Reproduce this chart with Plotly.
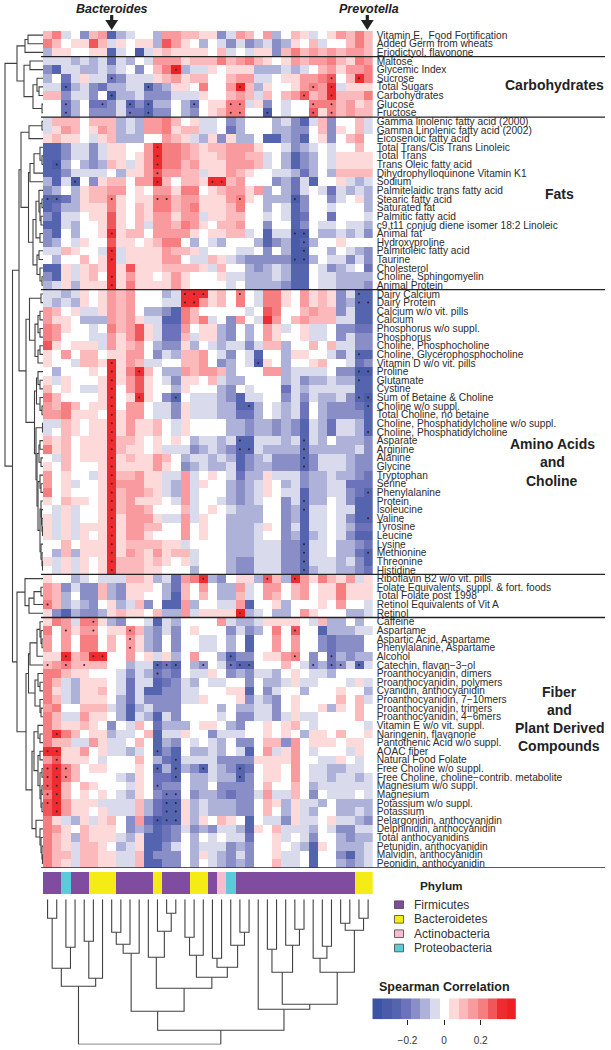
import plotly.graph_objects as go

W, H = 611, 1050
FONT = "Liberation Sans"
CORR_STEP = 0.0523   # one colour band of the Spearman scale

row_labels_misc = ["Vitamin E,  Food Fortification", "Added Germ from wheats", "Eriodictyol, flavonone"]
row_labels_carb = ["Maltose", "Glycemic Index", "Sucrose", "Total Sugars", "Carbohydrates", "Glucose", "Fructose"]
row_labels_fats = ["Gamma linolenic fatty acid (2000)", "Gamma Linolenic fatty acid (2002)", "Eicosenoic fatty acid",
    "Total Trans/Cis Trans Linoleic", "Total Trans", "Trans Oleic fatty acid", "Dihydrophylloquinone Vitamin K1", "Sodium",
    "Palmitelaidic trans fatty acid", "Stearic fatty acid", "Saturated fat", "Palmitic fatty acid",
    "c9,t11 conjug diene isomer 18:2 Linoleic", "Animal fat", "Hydroxyproline", "Palmitoleic fatty acid", "Taurine",
    "Cholesterol", "Choline, Sphingomyelin", "Animal Protein"]
row_labels_amino = ["Dairy Calcium", "Dairy Protein", "Calcium w/o vit. pills", "Calcium", "Phosphorus w/o suppl.", "Phosphorus",
    "Choline, Phosphocholine", "Choline, Glycerophosphocholine", "Vitamin D w/o vit. pills", "Proline", "Glutamate", "Cystine",
    "Sum of Betaine & Choline", "Choline w/o suppl.", "Total Choline, no betaine", "Choline, Phosphatidylcholine w/o suppl.",
    "Choline, Phosphatidylcholine", "Asparate", "Arginine", "Alanine", "Glycine", "Tryptophan", "Serine", "Phenylalanine",
    "Protein", "Isoleucine", "Valine", "Tyrosine", "Leucine", "Lysine", "Methionine", "Threonine", "Histidine"]
row_labels_vit = ["Riboflavin B2 w/o vit. pills", "Folate Equivalents, suppl. & fort. foods", "Total Folate post 1998",
    "Retinol Equivalents of Vit A", "Retinol"]
row_labels_fiber = ["Caffeine", "Aspartame", "Aspartic Acid, Aspartame", "Phenylalanine, Aspartame", "Alcohol", "Catechin, flavan\u22123\u2212ol",
    "Proanthocyanidin, dimers", "Proanthocyanidin, polymers", "Cyanidin, anthocyanidin", "Proanthocyanidin, 7\u221210mers",
    "Proanthocyanidin, trimers", "Proanthocyanidin, 4\u22126mers", "Vitamin E w/o vit. suppl.", "Naringenin, flavanone",
    "Pantothenic Acid w/o suppl.", "AOAC fiber", "Natural Food Folate", "Free Choline w/o suppl.",
    "Free Choline, choline\u2212contrib. metabolite", "Magnesium w/o suppl.", "Magnesium", "Potassium w/o suppl.", "Potassium",
    "Pelargonidin, anthocyanidin", "Delphinidin, anthocyanidin", "Total anthocyanidins", "Petunidin, anthocyanidin",
    "Malvidin, anthocyanidin", "Peonidin, anthocyanidin"]

# Correlation values in colour bands (-7..7), one row per nutrient, one column per genus
bands_misc = [
 [2,4,-1,0,-3,2,3,-5,-2,-1,0,0,-2,3,3,2,2,1,1,-3,-1,3,2,0,3,-2,0,2,1,-1,0,1,3,2,4,2],
 [4,2,0,1,1,5,2,-1,1,0,1,1,-2,5,3,1,0,-2,0,-1,-3,-1,-3,-2,-1,-3,-2,1,0,2,-1,0,0,2,4,2],
 [-2,1,1,0,0,1,1,-5,-1,0,-6,-1,1,2,1,1,1,1,0,2,-1,0,-1,1,1,-3,2,4,2,3,2,3,2,3,3,2],
]
bands_carb = [
 [-1,-1,-1,-2,-1,-2,-1,-4,-1,-2,0,-1,3,3,3,1,2,2,2,4,2,3,4,2,1,0,1,3,2,3,3,4,2,1,4,3],
 [-3,-5,-1,-1,-2,-2,-1,-2,-1,0,-3,0,2,4,7,-2,-1,-1,1,0,1,1,1,-2,-2,-2,-1,-2,-1,0,2,3,1,3,3,4],
 [-2,0,-4,-1,1,-1,-1,-4,-3,-1,-1,-1,1,2,3,1,2,2,0,0,2,3,3,-1,-1,0,1,1,3,3,4,5,0,2,6,4],
 [-1,-1,-5,-2,-1,-3,-4,-2,-2,-1,-1,-5,-3,-2,1,1,0,4,0,0,3,7,2,-2,1,0,0,1,3,4,3,6,-1,1,1,1],
 [2,2,-3,-1,-1,-3,0,-6,-2,-2,-1,-3,-3,-3,-1,-1,-1,1,0,0,2,3,2,-1,2,0,2,3,5,2,3,6,2,2,2,4],
 [0,0,-4,-2,0,-4,-4,-3,-1,-5,-3,-5,-2,-2,0,-2,-4,0,1,1,4,4,-1,1,-3,0,-1,0,0,4,4,4,2,3,1,2],
 [0,0,-4,-2,0,-3,-3,-3,-1,-4,-4,-5,-3,-3,0,-2,-3,0,1,2,4,4,0,0,-6,0,-1,0,0,5,1,4,2,3,2,2],
]
bands_fats = [
 [-1,2,2,2,0,2,2,2,-2,-1,-2,3,3,4,2,0,1,-1,-1,0,-3,-2,0,0,0,-2,-1,-3,-5,-1,2,-3,0,0,2,-1],
 [-1,1,3,2,0,1,3,2,-2,-1,-2,3,3,4,1,2,2,-1,-1,0,-4,-2,0,0,0,-2,-2,-3,-3,0,2,-3,1,0,2,-1],
 [1,2,1,1,0,-1,1,2,-2,-2,-2,0,0,3,2,1,-1,-2,1,-3,1,-2,-2,0,-5,-5,-2,-3,-5,0,1,-3,0,2,3,0],
 [-5,-5,-3,-1,-1,-3,-1,1,1,0,0,3,6,4,4,3,2,1,2,2,3,3,3,1,0,0,-1,-3,-2,-1,0,-1,0,0,2,0],
 [-5,-5,-3,-1,-1,-3,-1,1,1,0,1,3,6,4,4,3,2,1,1,2,3,3,2,2,-1,0,-2,-5,-3,-2,0,-1,1,1,1,1],
 [-5,-6,-2,0,-2,-3,-2,2,1,-1,1,3,6,4,4,2,3,1,1,1,3,3,3,2,-1,0,-2,-5,-3,-2,0,-1,1,1,1,1],
 [-5,-5,-3,-1,-1,-1,-1,0,-2,1,1,3,5,3,3,2,2,-1,1,1,3,2,1,0,0,-1,-1,-2,-4,-2,0,-2,2,2,2,2],
 [-2,-5,-1,-6,0,-3,1,2,2,0,3,3,7,2,0,2,2,1,6,6,2,3,0,0,0,-3,-2,-4,-1,-5,0,0,1,-1,-2,-1],
 [-3,-2,0,-2,1,2,2,3,3,0,1,0,3,3,1,4,4,0,1,2,3,3,1,3,-2,0,-2,-4,-1,0,-1,-4,-1,-2,-1,-2],
 [-5,-5,-4,-2,1,2,2,4,1,0,1,1,4,4,2,3,3,1,1,1,3,4,1,0,-2,-2,-2,-6,-3,0,0,-3,-1,0,1,-2],
 [-5,-4,-2,-2,1,1,1,4,1,0,2,1,4,4,2,3,4,1,1,1,2,4,0,0,-2,0,-1,-5,-3,0,0,-1,0,0,0,-2],
 [-3,-5,-1,-1,0,1,1,5,1,0,2,1,3,3,1,3,3,-1,1,1,2,2,0,0,-1,0,-1,-5,-4,0,0,-4,0,0,0,-1],
 [-5,-5,-1,-2,0,0,1,5,1,0,2,-1,3,3,2,4,3,1,0,2,2,3,0,0,-3,0,0,-5,-3,0,-1,-1,0,-1,-1,-2],
 [-3,-5,0,-2,0,0,1,6,1,2,2,0,3,3,3,3,1,0,1,1,2,2,-1,0,-5,-1,-1,-6,-6,0,-2,-2,-1,-2,-1,-3],
 [-3,-2,0,-1,1,0,0,5,1,1,0,1,2,4,4,0,-2,0,-1,-2,0,0,0,-2,-5,-3,-2,-6,-5,-2,0,0,1,0,0,0],
 [-1,-1,2,1,0,0,-1,6,-1,1,1,1,1,3,2,2,1,-1,0,0,0,-1,-1,0,-3,0,-2,-6,-6,0,0,-2,0,-1,-2,-3],
 [0,-2,0,0,2,0,1,6,-1,1,1,1,1,3,3,0,-1,-1,2,1,-1,-2,-3,-3,-3,-3,-3,-6,-6,-2,0,-1,-1,-3,-1,-3],
 [-5,-5,1,-1,1,2,1,6,1,5,1,1,1,2,2,2,2,1,-1,2,0,0,-2,-3,-2,-1,-2,-5,-5,0,-1,-3,-2,-1,0,-4],
 [-3,-5,1,-1,1,2,0,6,1,3,1,1,0,1,3,1,0,0,0,1,-1,-1,-2,-2,-2,-1,-2,-5,-5,0,-1,-1,-2,-2,-2,-2],
 [-2,-1,1,-2,1,1,1,6,1,4,1,1,1,1,3,1,0,0,0,0,-1,0,-2,-2,-2,-2,-3,-5,-5,0,-1,-1,-2,-2,-2,-3],
]
bands_amino = [
 [-1,-1,-2,-1,1,0,1,3,2,3,0,0,0,-2,-1,6,6,6,1,2,0,4,0,-1,4,4,1,0,3,1,2,1,-3,-1,-5,-5],
 [-1,-2,-1,-2,1,0,1,3,2,3,0,0,0,-1,-1,6,6,3,1,2,0,4,0,-1,4,4,1,0,3,1,2,1,-3,-2,-5,-5],
 [3,2,0,1,-1,-1,1,3,2,3,0,-2,-2,-3,-5,4,2,0,0,0,0,0,-1,0,5,4,0,0,2,3,2,2,-3,-1,-5,-5],
 [3,1,1,0,-2,-2,-2,3,2,3,1,-1,-1,-5,-5,4,2,4,-1,0,-3,3,0,-1,6,3,0,2,3,2,2,2,-1,-1,-5,-5],
 [4,3,1,0,0,-1,0,4,2,3,5,1,-1,-4,-4,3,0,1,1,-2,-3,0,-2,0,3,1,-1,0,1,-1,-1,0,-3,-3,-4,-4],
 [4,3,0,0,0,-1,-1,3,1,3,5,1,-1,-4,-4,2,-1,1,1,-2,-3,0,-2,0,3,1,0,0,1,-1,-1,0,-3,-1,-3,-3],
 [5,1,0,1,1,1,-1,3,1,2,3,0,-2,-3,-3,1,-2,0,-1,-2,-1,-1,-3,-1,2,2,-2,0,0,2,0,2,-1,-1,-3,-3],
 [1,0,3,0,2,2,0,1,1,3,3,0,-3,-1,-2,2,2,3,0,-1,-3,0,-1,-5,0,0,-2,1,1,0,0,-1,-3,-1,-5,-5],
 [1,0,0,-1,2,2,1,6,1,3,2,-1,-1,0,0,2,2,3,0,-3,-2,0,-1,-6,1,0,-2,0,0,1,2,0,0,-1,-4,-3],
 [0,-2,0,0,0,1,0,6,1,4,6,2,0,-2,-2,3,2,3,3,2,-2,0,0,0,3,3,-2,-1,-1,-1,-1,0,-3,-3,-6,-6],
 [1,-1,1,0,0,0,1,6,1,3,5,1,0,-1,-3,1,1,0,2,-1,-2,-2,0,0,0,0,-2,-1,-3,-2,-2,-1,-2,-2,-5,-5],
 [2,0,1,0,-1,-1,1,6,0,3,5,1,0,0,-2,1,0,0,0,-2,-3,0,-1,0,0,0,-4,-1,-2,-1,-1,-1,-1,-1,-5,-5],
 [4,2,0,0,0,0,1,6,0,1,6,1,0,-3,-5,0,-1,-1,-1,-2,-3,-5,-1,-1,0,0,-3,-1,-3,-1,-2,-2,-1,-3,-5,-6],
 [3,2,4,2,0,1,1,6,0,3,3,0,-1,-1,-3,1,-1,-1,-1,-2,-2,-5,-5,-2,0,-1,-2,-1,-4,0,-2,-3,-3,-3,-4,-5],
 [3,3,4,1,1,1,0,6,1,3,3,0,-1,-1,-3,1,-1,-1,-1,-2,-2,-4,-4,-2,0,-1,-2,-1,-4,0,-2,-3,-3,-3,-3,-5],
 [-1,-1,2,1,0,1,1,6,1,3,1,1,2,0,-1,1,0,0,0,0,-2,-2,-3,-2,-2,-3,-2,-3,-5,-1,-2,-4,-1,-1,-2,-5],
 [-1,0,2,1,0,1,1,6,1,3,1,1,2,0,-1,1,0,0,0,0,-2,-2,-3,-2,-2,-3,-2,-3,-5,-1,-2,-4,-1,-1,-2,-5],
 [2,1,2,0,1,1,1,6,2,2,1,0,1,0,1,0,-2,-1,-1,-2,-1,-5,-5,-1,-1,-1,-2,-1,-5,-1,-2,0,-2,-2,-2,-3],
 [4,1,2,0,1,1,1,6,2,1,1,0,1,-1,-1,-1,-3,-2,-1,-2,-3,-5,-5,-1,-2,-2,-2,-2,-5,-2,-2,-2,-2,-2,-1,-3],
 [0,-1,2,0,1,1,1,6,1,2,1,1,3,2,0,-2,-1,-1,-2,-1,-2,-5,-3,-2,-1,-3,-3,-3,-5,-3,-1,-1,-1,-2,-3,-3],
 [1,0,2,0,0,0,1,6,1,1,1,1,3,1,0,-3,-2,-1,-2,-2,-1,-5,-3,-2,-2,-3,-3,-3,-5,-3,-1,-1,-1,-2,-3,-3],
 [3,0,1,0,0,-1,1,6,2,2,3,1,1,-1,-1,3,-1,0,1,0,-1,-4,-2,-2,1,-1,-1,-1,-3,-2,-2,-1,-2,-2,-3,-4],
 [3,0,1,-1,0,0,1,6,3,3,3,1,1,-1,-2,3,-1,1,0,0,-2,-3,-2,-1,1,0,-2,-1,-3,-2,-2,-1,-1,-4,-4,-4],
 [4,0,1,0,0,0,1,6,2,3,3,2,1,-1,-2,3,-1,0,0,0,-2,-3,-2,-1,1,0,-1,-1,-5,-2,-2,-1,-1,-3,-4,-5],
 [1,0,2,1,1,0,1,6,2,3,1,1,1,0,-1,3,-1,0,0,-1,-2,-3,-2,-1,0,0,-3,-1,-5,-2,-2,0,-1,-3,-5,-5],
 [0,-1,1,-1,0,0,1,6,2,3,3,2,0,0,0,2,-1,0,1,0,-1,-2,-2,-2,0,0,-3,-2,-5,-1,-1,0,-1,-1,-5,-5],
 [1,-1,1,-1,0,0,1,6,1,3,3,3,1,-1,-1,3,-1,1,0,0,-2,-2,-2,-2,0,0,-3,-2,-5,-1,-1,0,-1,-3,-5,-5],
 [1,-1,1,-1,1,1,1,6,1,3,3,2,2,0,0,3,0,1,0,0,-2,-2,-2,-1,1,0,-3,-1,-5,-1,-1,0,-1,-2,-4,-4],
 [1,-1,1,-1,1,0,1,6,1,3,3,1,0,0,0,3,0,1,0,0,-2,-2,-2,-1,0,0,-3,-2,-5,-2,-1,0,-1,-3,-5,-5],
 [0,0,2,0,1,1,1,6,1,2,2,2,2,1,1,-1,0,0,0,0,-2,-2,-2,-1,-1,-1,-3,-3,-5,-1,-1,0,-2,-2,-3,-4],
 [0,-2,2,-2,1,1,1,6,1,3,2,1,3,1,2,2,-1,0,0,0,-2,-2,-2,-1,-1,-1,-3,-3,-5,-1,-1,0,-2,-2,-4,-5],
 [1,-1,1,-1,1,0,1,6,2,2,2,1,2,1,0,1,-1,0,0,0,-2,-3,-3,-1,-1,-1,-3,-3,-5,-1,-1,-1,-2,-1,-3,-5],
 [0,-1,1,-1,1,0,1,6,2,2,2,1,1,0,0,0,-2,0,0,0,-2,-3,-3,-1,-1,-1,-3,-3,-5,-2,-1,-1,-2,-2,-3,-4],
]
bands_vit = [
 [1,0,0,-2,-1,0,-1,-1,-1,2,2,1,-2,-1,-4,3,4,6,-2,-3,0,1,1,-2,5,2,-2,6,3,1,4,2,1,3,-1,1],
 [3,2,-3,-1,-3,-3,2,-2,-3,1,1,1,0,-2,-4,2,0,3,0,-2,-2,3,-1,0,3,3,0,2,3,0,1,1,4,1,1,1],
 [3,2,-2,0,-3,-3,2,-2,-3,1,1,0,0,-2,-5,2,0,2,0,-2,-2,2,-1,0,3,2,0,2,3,0,1,1,4,1,1,1],
 [4,2,-2,-1,-2,-3,0,1,-2,-1,2,-3,0,-5,-5,3,-2,0,0,-1,-1,3,-5,0,0,1,-2,0,0,0,1,0,3,0,0,-1],
 [1,-3,-5,-2,-3,-3,-2,1,2,1,1,0,2,-2,-2,3,-1,1,1,1,1,7,-2,-1,0,-2,-2,0,3,1,0,0,0,-2,-2,-1],
]
bands_fiber = [
 [1,4,3,-1,4,4,1,-2,-3,0,0,-1,-5,-1,-2,0,0,0,0,3,-1,-2,-2,-1,1,1,1,1,0,-1,2,-2,-2,0,-2,0],
 [4,0,3,1,3,3,0,1,1,4,2,-2,-3,-1,-3,0,1,0,0,0,-3,-1,-3,-2,0,4,0,5,0,0,-5,-2,-2,-2,-1,-1],
 [3,0,3,0,4,4,0,2,0,3,1,-2,-3,0,-3,0,0,-1,-1,0,-2,0,-5,0,0,3,0,3,0,0,-3,-4,-3,-3,-3,0],
 [3,0,3,0,4,4,0,2,0,3,1,-2,-3,0,-3,0,0,-1,-1,0,-2,0,-5,0,0,3,0,3,0,0,-3,-4,-3,-3,-3,0],
 [1,1,6,2,3,6,6,0,0,3,0,1,-1,1,-2,0,3,0,0,-2,-5,-3,-3,0,1,1,3,4,0,-3,0,-4,-2,-3,-2,-2],
 [2,3,4,2,2,2,2,0,0,-2,-1,-1,-5,-4,-5,0,-2,-3,0,-1,-4,-5,-5,0,0,0,2,0,-1,-3,-2,-4,-3,-1,-5,-1],
 [4,4,2,1,1,0,0,0,-1,-3,-1,-2,-4,-3,-4,0,-1,-1,1,0,-3,-2,-3,-1,-1,-2,0,1,0,-1,-1,-2,0,0,0,0],
 [4,2,-1,-2,1,1,1,0,-1,-4,-1,-1,-5,-4,-3,-1,-2,0,-1,-1,0,0,-3,0,-2,-2,-1,1,-1,-1,0,0,0,-1,1,-1],
 [4,1,-1,-2,1,1,2,0,-1,-4,-1,-5,-5,-3,-3,-1,-1,0,0,0,1,1,-5,0,-3,-1,0,0,-2,0,0,0,1,0,0,-2],
 [4,2,-1,-2,1,1,1,0,-2,-4,-1,-3,-3,-3,-3,-1,-1,1,0,0,0,1,-3,-1,-2,-3,0,1,0,0,0,0,2,0,2,-1],
 [3,4,0,0,2,2,2,-1,-2,-5,-2,-1,-3,-3,-3,0,0,0,0,-2,0,-2,-2,-1,-1,-3,0,1,0,0,1,-2,1,0,2,0],
 [4,2,-1,-1,3,1,1,0,-2,-5,-1,-2,-5,-1,-3,0,0,0,0,-1,0,-3,-3,-1,-1,-3,-1,1,-1,-1,0,0,0,0,2,0],
 [4,2,1,1,2,1,0,-3,0,-1,2,0,-4,-2,-2,-2,0,1,1,0,-2,-3,0,0,1,0,1,2,0,-1,0,0,0,0,0,-1],
 [4,6,4,2,0,1,1,-2,-1,-1,0,2,-5,-1,-1,1,0,0,-3,-1,-1,-1,0,0,1,0,1,0,-2,1,1,0,2,0,0,1],
 [4,2,2,-1,-1,3,1,-1,-1,0,2,0,-5,-2,-3,0,-1,0,-1,-2,0,-3,-3,0,2,2,-3,3,0,1,1,1,0,1,1,0],
 [6,6,1,1,3,0,1,-1,-1,-2,-1,0,-5,-3,-5,0,-2,-2,-1,-2,0,-1,-5,0,3,-1,1,3,0,-1,0,0,0,-1,1,0],
 [3,5,1,1,1,0,-1,0,0,0,2,0,-2,-4,-5,-1,-1,-1,-1,-3,-3,-3,-3,1,1,1,1,3,0,0,-1,-1,1,0,-1,0],
 [5,6,4,2,0,1,1,0,0,0,1,0,-5,-2,-5,-2,-3,-5,-1,-2,-3,-5,-4,0,1,1,0,3,0,-1,-1,-2,-2,-1,-1,0],
 [5,6,4,2,0,0,0,0,-1,-2,1,0,-4,-4,-5,0,-2,-2,-1,-2,-2,-5,-3,0,1,1,0,3,0,-1,-1,-2,-1,-1,-2,-1],
 [5,6,2,0,2,1,0,0,0,-1,1,0,-4,-3,-3,0,-2,-2,0,-3,-3,-3,-3,0,2,0,0,2,0,-2,-1,-1,-1,-1,-1,-1],
 [4,6,2,0,1,0,1,0,-1,-2,1,0,-3,-4,-4,0,-3,-2,-2,-3,-4,-3,-3,-1,3,-1,-1,2,0,-3,0,-1,-1,-1,0,-1],
 [5,6,3,1,1,1,-1,-1,-1,-1,2,-2,-4,-5,-5,1,-2,-1,-2,-2,-2,-3,-3,0,2,1,-2,1,-1,-1,-2,0,-2,-2,-2,-2],
 [5,6,3,1,1,0,1,-1,-1,-1,2,-2,-4,-5,-5,1,-2,-1,-2,-2,-2,-3,-3,0,2,0,-2,1,-1,-2,0,0,-2,-2,-1,-2],
 [4,1,-1,-2,1,-1,1,2,0,-3,3,-4,-6,-5,-5,1,-2,1,0,2,1,0,-5,0,-1,-1,-3,1,-1,-1,0,1,-1,-1,-2,-3],
 [4,3,1,0,2,1,1,1,0,-3,-2,-3,-5,-4,-3,-1,-3,-2,-3,-1,-1,-2,-5,1,0,2,-1,-1,-1,-2,0,-1,-3,-3,-1,-1],
 [4,2,1,-2,2,1,1,1,-1,-2,1,-5,-5,-4,-3,0,-2,0,-1,0,-1,-1,-4,0,0,1,-1,0,-1,-3,0,0,-2,-3,-2,-2],
 [4,2,1,-1,2,2,1,0,-2,-1,1,-5,-5,-3,-1,0,-2,-1,-1,-1,-3,-2,-3,0,0,1,0,-1,-2,-5,1,0,-2,-2,-2,-1],
 [4,2,2,-1,2,2,1,1,-1,-1,2,-5,-3,-3,-3,0,-2,1,-1,-2,-3,-1,-3,0,0,1,-1,-1,0,-5,0,0,-3,-5,-2,-1],
 [4,2,1,-1,2,2,1,1,-1,-1,2,-5,-5,-3,-3,0,-2,0,-1,-2,-3,-2,-3,0,0,2,-1,-1,0,-5,0,0,-2,-3,-2,-1],
]
# Significant correlations: row -> columns carrying a dot
significant = {4:[14],5:[7,31,34],6:[2,11,21,29,31],7:[7,28,31],8:[2,6,9,11,16,20,21,29,31],9:[2,9,11,20,21,24,29,31],
 13:[12],14:[12],15:[1,12],16:[12],17:[3,12,18,19],19:[0,1,7,12,13,21,27],23:[7,27,28],24:[28],25:[7,28],26:[7,27,28],28:[7],29:[7],
 30:[15,16,17,21,34],31:[15,16,34,35],37:[34],38:[7,23],39:[7,10,34,35],40:[7,34],41:[7],42:[7,10,14,34,35],43:[7,22,35],44:[7],45:[7],
 46:[7,35],47:[7,21,28],48:[7,21,22,28],49:[7,28],50:[7,28],51:[7],52:[7],53:[7,35],54:[7,28],55:[7,28],56:[7,35],57:[7],58:[7],
 59:[7,28],60:[7,28,35],61:[7,28],62:[7,28],63:[17,24,27],66:[0],67:[21],68:[5],69:[2,5,9,27],70:[9],71:[9],72:[2,5,6,20,27,31],
 73:[0,2,4,12,13,14,17,20,21,22,29,31,32,34],74:[12],81:[1],83:[0,1,12],84:[1,14],85:[0,1,2,12,14,17,21],86:[0,1,2,14,21],
 87:[0,1,12],88:[0,1,13,14],89:[0,1,13,14],90:[1,13,14],91:[12,13,14]}

# Phylum of each column, 0 Firmicutes, 1 Bacteroidetes, 2 Actinobacteria, 3 Proteobacteria
phylum = [0,0,3,0,0,1,1,1,0,0,0,0,1,0,0,0,1,1,0,2,3,0,0,0,0,0,0,0,0,0,0,0,0,0,1,1]
phylum_names = ["Firmicutes", "Bacteroidetes", "Actinobacteria", "Proteobacteria"]
phylum_colors = ["#7f4c9f", "#f4ec14", "#f7bccf", "#5ccbd9"]

# Column dendrogram: (left, right, merge height)
A = (((0,1,19),(2,3,48),69), ((4,5,42),6,79), 87)
B1 = (((7,8,33),9,45),10,54)
B2 = (11,(12,(13,14,14),32),58)
B3 = ((15,16,38),17,56)
B4 = ((18,19,59),(20,(21,22,33),46),68)
B = (B1,(B2,(B3,B4,78),89),112)
C1 = ((24,25,50),(26,(27,28,30),46),73)
C2 = ((29,(30,31,47),59),((32,33,24),(34,35,19),31),73)
C = (23,(C1,C2,105),110)
col_tree = (A,(B,C,131),145)

# Row dendrogram
top_tree = (((0,1,15),2,18),((3,4,13),((5,(6,7,4),6),(8,9,1),10),19),26)
T1 = ((10,11,1),12,14)
S1 = (((13,(14,15,1),3),16,9),17,13)
S2 = (((18,((19,20,1),(21,22,2),3),4),(23,24,3),7),((25,26,4),(27,(28,29,1),3),6),10)
fats_tree = (T1,(S1,S2,14.5),22)
AmA = ((30,31,2),(((32,33,3),(34,35,3),5),((36,37,3),38,5),8),13.5)
AmE = ((54,(55,(56,(57,58,.5),1),1.5),2),(59,(60,(61,62,.5),1),2),3)
AmD = ((51,(52,53,2),3),AmE,5)
AmC = (((47,48,3),(49,50,2),4),AmD,6)
AmB = (((39,(40,41,3),5),(42,(43,44,1),3),6.5),((45,46,.5),AmC,7),8.5)
amino_tree = (AmA,AmB,17)
vit_tree = (63,(((64,65,2),66,9),67,14),18)
Fa = (((68,(69,(70,71,1),2),3),72,6),73,13)
Fb = ((74,(75,76,3),5),(77,(78,79,2),3),8)
Fd = ((80,(81,82,3),5),((83,84,3),((85,86,1),((87,88,1),(89,90,1),2),3),5),9)
Fe = (91,(92,(93,(94,(95,96,.5),1),2),3),7)
fiber_tree = ((Fa,Fb,14.5),(Fd,Fe,11),17)
row_tree = (top_tree,((fats_tree,amino_tree,24),(vit_tree,fiber_tree,26),30.5),38)

# ---- assemble ----
groups = [(row_labels_misc,bands_misc),(row_labels_carb,bands_carb),(row_labels_fats,bands_fats),
          (row_labels_amino,bands_amino),(row_labels_vit,bands_vit),(row_labels_fiber,bands_fiber)]
labels, bands, bounds = [], [], []
for l, b in groups:
    labels += l; bands += b; bounds.append(len(labels))
bad = [i for i, r in enumerate(bands) if len(r) != 36]
assert not bad and len(labels) == len(bands), (bad, [len(bands[i]) for i in bad], len(labels), len(bands))
z = [[v * CORR_STEP for v in r] for r in bands]
n_rows, n_cols = len(bands), 36

band_colors = ["#3a53a4","#4a5ba9","#5564ae","#6c73ba","#8a8ec7","#aeb1d8","#d9dbec","#ffffff",
               "#fdd9da","#fbb9bb","#f99b9e","#f67d80","#f1575a","#ee2c30","#ed2024"]
ZMAX = 7.5 * CORR_STEP
def stepped(colors):
    out, n = [], len(colors)
    for i, c in enumerate(colors):
        out += [[i / n, c], [(i + 1) / n, c]]
    return out
cs = stepped(band_colors)

def px_x(x): return x / W
def px_y(y): return 1 - y / H

HX0, HX1, HY0, HY1 = 43.0, 372.7, 30.8, 867.7

fig = go.Figure()
fig.add_trace(go.Heatmap(z=z, x=list(range(n_cols)), y=list(range(n_rows)), colorscale=cs, zmin=-ZMAX, zmax=ZMAX,
                         showscale=False, xgap=0, ygap=0, xaxis="x", yaxis="y"))
dx = [c for r, cols in significant.items() for c in cols]
dy = [r for r, cols in significant.items() for c in cols]
fig.add_trace(go.Scatter(x=dx, y=dy, mode="markers", marker=dict(size=2, color="#33202a"), xaxis="x", yaxis="y", showlegend=False))

# phylum strip
fig.add_trace(go.Heatmap(z=[phylum], x=list(range(n_cols)), colorscale=stepped(phylum_colors), zmin=-0.5, zmax=3.5,
                         showscale=False, xaxis="x2", yaxis="y2"))

def tree_lines(node):
    """returns leaf-scale position, height, and polyline coordinates (pos list, height list)"""
    if not isinstance(node, tuple):
        return float(node), 0.0, [], []
    lp, lh, lpa, lha = tree_lines(node[0])
    rp, rh, rpa, rha = tree_lines(node[1])
    h = node[2]
    pa = lpa + rpa + [lp, lp, rp, rp, None]
    ha = lha + rha + [lh, h, h, rh, None]
    return (lp + rp) / 2, h, pa, ha

_, _, cp, ch = tree_lines(col_tree)
fig.add_trace(go.Scatter(x=cp, y=ch, mode="lines", line=dict(color="#404040", width=1.1), xaxis="x3", yaxis="y3", showlegend=False, hoverinfo="skip"))
_, _, rp, rh = tree_lines(row_tree)
fig.add_trace(go.Scatter(x=rh, y=rp, mode="lines", line=dict(color="#404040", width=1.1), xaxis="x4", yaxis="y4", showlegend=False, hoverinfo="skip"))

# colour key
key_bands = list(range(-7, 8))
fig.add_trace(go.Heatmap(z=[[k * CORR_STEP for k in key_bands]], x=[k * CORR_STEP for k in key_bands], colorscale=cs, zmin=-ZMAX, zmax=ZMAX,
                         showscale=False, xaxis="x5", yaxis="y5"))

hidden = dict(visible=False, fixedrange=True)
fig.update_layout(
    width=W, height=H, autosize=False, margin=dict(l=0, r=0, t=0, b=0), paper_bgcolor="white", plot_bgcolor="white",
    font=dict(family=FONT, color="#222222"), showlegend=False,
    xaxis=dict(domain=[px_x(HX0), px_x(HX1)], range=[-0.5, 35.5], **hidden),
    yaxis=dict(domain=[px_y(HY1), px_y(HY0)], range=[n_rows - 0.5, -0.5], side="right", anchor="x", tickmode="array",
               tickvals=list(range(n_rows)), ticktext=labels, tickfont=dict(size=10.2, color="#2b2b2b"), ticks="",
               showline=False, showgrid=False, zeroline=False, fixedrange=True, ticklabelstandoff=3, automargin=False),
    xaxis2=dict(domain=[px_x(HX0), px_x(HX1)], range=[-0.5, 35.5], anchor="y2", **hidden),
    yaxis2=dict(domain=[px_y(894), px_y(872)], anchor="x2", **hidden),
    xaxis3=dict(domain=[px_x(HX0), px_x(HX1)], range=[-0.5, 35.5], anchor="y3", **hidden),
    yaxis3=dict(domain=[px_y(1044.5), px_y(899.3)], range=[145.2, 0], anchor="x3", **hidden),
    xaxis4=dict(domain=[0, px_x(43)], range=[43, 0], anchor="y4", **hidden),
    yaxis4=dict(domain=[px_y(HY1), px_y(HY0)], range=[n_rows - 0.5, -0.5], anchor="x4", **hidden),
    xaxis5=dict(domain=[px_x(372.3), px_x(515.8)], range=[-ZMAX, ZMAX], anchor="y5", tickmode="array", tickvals=[-0.2, 0, 0.2],
                ticktext=["\u22120.2", "0", "0.2"], ticks="outside", ticklen=5, tickwidth=1, tickcolor="#222",
                tickfont=dict(size=10, color="#333"), showline=False, showgrid=False, zeroline=False, fixedrange=True, ticklabelstandoff=7),
    yaxis5=dict(domain=[px_y(1019.3), px_y(998.3)], anchor="x5", **hidden),
)

# group separators
shapes = []
for b in [3, 10, 30, 63, 68, 97]:
    shapes.append(dict(type="line", xref="paper", yref="y", x0=px_x(41), x1=px_x(605), y0=b - 0.5, y1=b - 0.5,
                       line=dict(color="#222222", width=1.3), layer="above"))
# arrows
for cx in [111.7, 367.3]:
    path = "M {} {} L {} {} L {} {} L {} {} L {} {} L {} {} L {} {} Z".format(
        px_x(cx - 1.6), px_y(15), px_x(cx + 1.6), px_y(15), px_x(cx + 1.6), px_y(20), px_x(cx + 6.4), px_y(20),
        px_x(cx), px_y(30), px_x(cx - 6.4), px_y(20), px_x(cx - 1.6), px_y(20))
    shapes.append(dict(type="path", xref="paper", yref="paper", path=path, fillcolor="#222222", line=dict(width=0), layer="above"))
# phylum legend swatches
swatch_y = [904.7, 919.3, 933.7, 948.0]
for col, y in zip(phylum_colors, swatch_y):
    shapes.append(dict(type="rect", xref="paper", yref="paper", x0=px_x(394.5), x1=px_x(403.5), y0=px_y(y + 3.8), y1=px_y(y - 3.8),
                       fillcolor=col, line=dict(color="#444", width=0.8), layer="above"))
fig.update_layout(shapes=shapes)

def note(x, y, text, size, bold=False, italic=False, anchor="center", color="#222222"):
    t = text
    if bold: t = "<b>%s</b>" % t
    if italic: t = "<i>%s</i>" % t
    fig.add_annotation(xref="paper", yref="paper", x=px_x(x), y=px_y(y), text=t, showarrow=False, xanchor=anchor, yanchor="middle",
                       font=dict(size=size, family=FONT, color=color), borderpad=0, borderwidth=0)

note(111.7, 9, "Bacteroides", 12.5, bold=True, italic=True)
note(369, 9, "Prevotella", 12.5, bold=True, italic=True)
note(554, 85, "Carbohydrates", 14, bold=True)
note(559, 194, "Fats", 14, bold=True)
for y, t in [(444, "Amino Acids"), (462, "and"), (481, "Choline")]:
    note(552, y, t, 14, bold=True)
for y, t in [(692, "Fiber"), (710, "and"), (728, "Plant Derived"), (746, "Compounds")]:
    note(559, y, t, 14, bold=True)
note(441.7, 886, "Phylum", 11.8, bold=True)
note(444.4, 987.3, "Spearman Correlation", 12.5, bold=True)
for name, y in zip(phylum_names, swatch_y):
    note(413.6, y, name, 12, anchor="left", color="#333333")

fig.write_html("out.html", config={"displayModeBar": False},
               post_script="document.body.style.margin='0';document.body.style.padding='0';")
